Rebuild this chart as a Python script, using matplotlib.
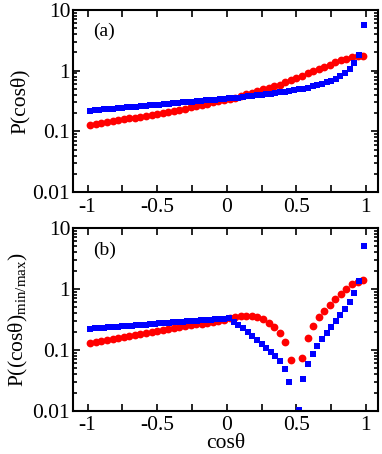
from matplotlib import pyplot as plt
from matplotlib.ticker import LogLocator, FixedFormatter, FixedLocator, NullFormatter
import numpy as np

plt.rcParams['font.family'] = ['Liberation Serif', 'DejaVu Serif']
plt.rcParams['mathtext.fontset'] = 'custom'
plt.rcParams['mathtext.rm'] = 'Liberation Serif'
plt.rcParams['mathtext.it'] = 'Liberation Serif:italic'

# red circles: 50 bins, blue squares: 60 bins
x_red = np.arange(-0.98, 1.0, 0.04)
x_blue = -1 + (np.arange(60) + 0.5) / 30

red_a = [0.128, 0.132, 0.137, 0.142, 0.147, 0.152, 0.157, 0.163, 0.169, 0.175,
         0.181, 0.187, 0.194, 0.201, 0.208, 0.217, 0.227, 0.238, 0.249, 0.261,
         0.273, 0.285, 0.299, 0.313, 0.327, 0.343, 0.360, 0.383, 0.407, 0.434,
         0.461, 0.490, 0.521, 0.555, 0.590, 0.643, 0.698, 0.760, 0.828, 0.900,
         0.980, 1.07, 1.16, 1.26, 1.38, 1.48, 1.58, 1.67, 1.73, 1.77]

blue_a = [0.220, 0.223, 0.227, 0.230, 0.234, 0.237, 0.241, 0.245, 0.248, 0.252,
          0.256, 0.260, 0.264, 0.268, 0.273, 0.277, 0.281, 0.286, 0.290, 0.294,
          0.299, 0.304, 0.308, 0.313, 0.318, 0.323, 0.328, 0.333, 0.338, 0.343,
          0.349, 0.354, 0.361, 0.369, 0.377, 0.385, 0.394, 0.402, 0.411, 0.419,
          0.428, 0.437, 0.449, 0.461, 0.475, 0.491, 0.508, 0.527, 0.549, 0.575,
          0.605, 0.641, 0.684, 0.738, 0.813, 0.92, 1.08, 1.32, 1.84, 5.6]

red_b = [0.130, 0.136, 0.142, 0.147, 0.153, 0.158, 0.164, 0.170, 0.177, 0.183,
         0.190, 0.197, 0.204, 0.211, 0.219, 0.227, 0.235, 0.243, 0.252, 0.261,
         0.270, 0.280, 0.289, 0.299, 0.309, 0.330, 0.350, 0.360, 0.365, 0.360,
         0.345, 0.320, 0.280, 0.235, 0.190, 0.133, 0.068, np.nan, 0.075, 0.155,
         0.250, 0.340, 0.440, 0.550, 0.680, 0.820, 1.00, 1.19, 1.32, 1.38]

blue_b = [0.222, 0.225, 0.228, 0.231, 0.234, 0.237, 0.240, 0.244, 0.247, 0.250,
          0.253, 0.257, 0.260, 0.264, 0.267, 0.271, 0.274, 0.278, 0.282, 0.285,
          0.289, 0.293, 0.297, 0.301, 0.305, 0.309, 0.313, 0.318, 0.322, 0.326,
          0.331, 0.290, 0.255, 0.225, 0.195, 0.168, 0.145, 0.125, 0.108, 0.093,
          0.079, 0.065, 0.048, 0.030, np.nan, 0.0102, 0.033, 0.058, 0.085, 0.114,
          0.148, 0.188, 0.235, 0.295, 0.370, 0.460, 0.610, 0.850, 1.36, 5.0]

fig = plt.figure(figsize=(3.82, 4.54), dpi=100)
ax_a = fig.add_axes([0.191, 0.577, 0.798, 0.401])
ax_b = fig.add_axes([0.191, 0.095, 0.798, 0.403])

panels = [(ax_a, red_a, blue_a, '(a)', 'P(cosθ)'),
          (ax_b, red_b, blue_b, '(b)', r'P((cosθ)$_{\rm min/max}$)')]

for ax, red, blue, tag, ylab in panels:
    ax.plot(x_red, red, 'o', color='#ff0000', markersize=5.6, markeredgewidth=0)
    ax.plot(x_blue, blue, 's', color='#0000ff', markersize=5.0, markeredgewidth=0)
    ax.set_yscale('log')
    ax.set_xlim(-1.105, 1.085)
    ax.set_ylim(0.01, 10)
    ax.xaxis.set_major_locator(FixedLocator([-1, -0.5, 0, 0.5, 1]))
    ax.xaxis.set_major_formatter(FixedFormatter(['-1', '-0.5', '0', '0.5', '1']))
    ax.xaxis.set_minor_locator(FixedLocator([-0.75, -0.25, 0.25, 0.75]))
    ax.yaxis.set_major_locator(FixedLocator([0.01, 0.1, 1, 10]))
    ax.yaxis.set_major_formatter(FixedFormatter(['0.01', '0.1', '1', '10']))
    ax.yaxis.set_minor_locator(LogLocator(base=10, subs=np.arange(2, 10)))
    ax.yaxis.set_minor_formatter(NullFormatter())
    ax.tick_params(which='both', direction='in', top=True, right=True,
                   width=1.2, labelsize=15.5)
    ax.tick_params(axis='x', which='both', length=5, pad=4)
    ax.tick_params(axis='y', which='major', length=5, pad=2)
    ax.tick_params(axis='y', which='minor', length=3)
    for s in ax.spines.values():
        s.set_linewidth(1.5)
    ax.text(0.065, 0.88, tag, transform=ax.transAxes, fontsize=14,
            ha='left', va='center')
    ax.set_ylabel(ylab, fontsize=15.5, labelpad=2)

ax_b.set_xlabel('cosθ', fontsize=15.5, labelpad=-1)

fig.savefig('out.png', dpi=100)
